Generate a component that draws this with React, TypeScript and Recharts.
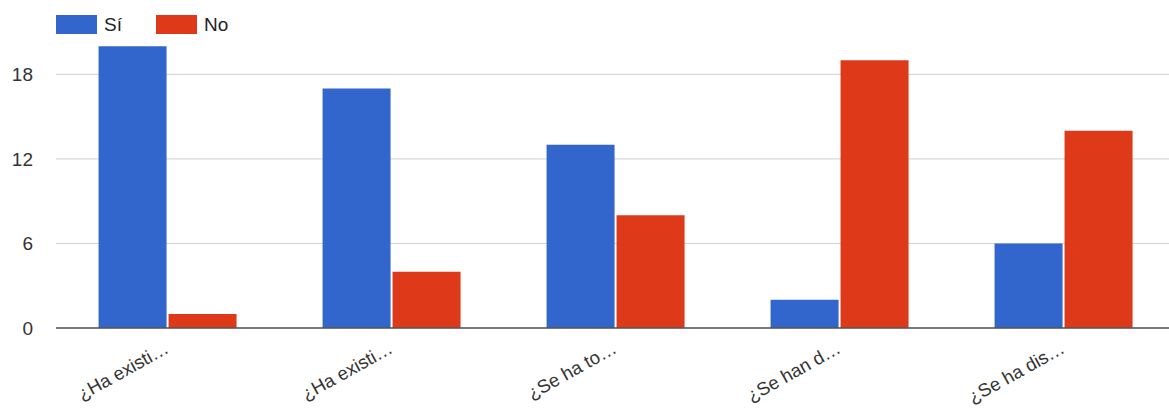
import React from "react";
import { Bar, BarChart, CartesianGrid, XAxis, YAxis } from "recharts";

const categories = [
  "¿Ha existi…",
  "¿Ha existi…",
  "¿Se ha to…",
  "¿Se han d…",
  "¿Se ha dis…",
];
const siValues = [20, 17, 13, 2, 6];
const noValues = [1, 4, 8, 19, 14];
const yTicks = [0, 6, 12, 18];
const seriesNames = ["Sí", "No"];

const BLUE = "#3366CC";
const RED = "#DE3A19";
const FONT = "Arial, 'Liberation Sans', sans-serif";

const data = categories.map((name, i) => ({
  name,
  si: siValues[i],
  no: noValues[i],
}));

const AngledTick = (props: any) => {
  const { x, y, payload } = props;
  return (
    <g transform={`translate(${x + 2},${y})`}>
      <text
        x={0}
        y={0}
        textAnchor="end"
        transform="rotate(-29)"
        fill="#333"
        fontSize={18.5}
        fontFamily={FONT}
      >
        {payload.value}
      </text>
    </g>
  );
};

const App = () => {
  return (
    <div
      style={{
        position: "absolute",
        top: 0,
        left: 0,
        width: 1169,
        height: 410,
        overflow: "hidden",
        background: "#fff",
        fontFamily: FONT,
      }}
    >
      {/* legend */}
      <div style={{ position: "absolute", top: 15, left: 56, display: "flex", alignItems: "center" }}>
        {[BLUE, RED].map((c, i) => (
          <div key={i} style={{ display: "flex", alignItems: "center", marginRight: i === 0 ? 34 : 0 }}>
            <div style={{ width: 41, height: 19, background: c }} />
            <span style={{ marginLeft: 7, fontSize: 19, color: "#222", lineHeight: "19px" }}>
              {seriesNames[i]}
            </span>
          </div>
        ))}
      </div>
      <BarChart
        width={1176}
        height={410}
        data={data}
        barGap={2}
        barCategoryGap="19%"
        margin={{ top: 18, right: 0, left: 16, bottom: 22 }}
      >
        <CartesianGrid vertical={false} stroke="#d0d0d0" horizontalValues={yTicks} />
        <XAxis
          dataKey="name"
          height={60}
          tickLine={false}
          tickSize={0}
          tickMargin={24}
          interval={0}
          axisLine={{ stroke: "#555", strokeWidth: 1.5 }}
          tick={<AngledTick />}
        />
        <YAxis
          width={40}
          domain={[0, 22]}
          ticks={yTicks}
          axisLine={false}
          tickLine={false}
          tickSize={0}
          tickMargin={23}
          tick={{ fill: "#333", fontSize: 19, fontFamily: FONT }}
        />
        <Bar dataKey="si" name={seriesNames[0]} fill={BLUE} isAnimationActive={false} />
        <Bar dataKey="no" name={seriesNames[1]} fill={RED} isAnimationActive={false} />
      </BarChart>
    </div>
  );
};

export default App;
